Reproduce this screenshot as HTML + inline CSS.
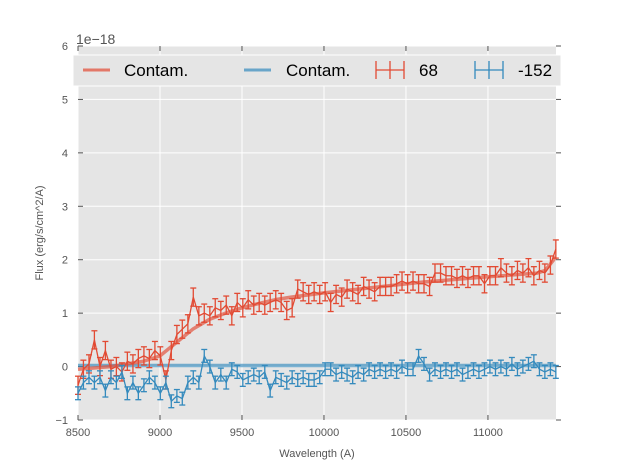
<!DOCTYPE html>
<html><head><meta charset="utf-8"><style>
body{margin:0;background:#fff;}
svg{display:block;font-family:"Liberation Sans","DejaVu Sans",sans-serif;}
</style></head><body>
<svg id="chart" width="617" height="467" viewBox="0 0 617 467">
<rect x="78" y="46" width="478" height="374" fill="#e5e5e5"/>
<g id="grid"></g>
<g id="axes"></g>
<g id="series"></g>
<text x="76" y="44" font-size="14" fill="#555">1e−18</text>
<text x="317" y="457" font-size="11" fill="#555" text-anchor="middle">Wavelength (A)</text>
<text transform="translate(43,233) rotate(-90)" font-size="11" fill="#555" text-anchor="middle">Flux (erg/s/cm^2/A)</text>
<g>
<rect x="73" y="55" width="488" height="31" fill="#e5e5e5" stroke="#fff" stroke-width="1"/>
<g><line x1="83" y1="70" x2="110" y2="70" stroke="#E24A33" stroke-opacity="0.7" stroke-width="3"/><text x="124" y="76" font-size="17" fill="#000">Contam.</text></g>
<g><line x1="244" y1="70" x2="271" y2="70" stroke="#348ABD" stroke-opacity="0.7" stroke-width="3"/><text x="286" y="76" font-size="17" fill="#000">Contam.</text></g>
<g stroke="#E24A33" stroke-width="1.3"><line x1="376" y1="70" x2="404" y2="70"/><line x1="390" y1="61" x2="390" y2="79"/><line x1="376" y1="61" x2="376" y2="79"/><line x1="404" y1="61" x2="404" y2="79"/><text x="419" y="76" font-size="17" fill="#000" stroke="none">68</text></g>
<g stroke="#348ABD" stroke-width="1.3"><line x1="475" y1="70" x2="503" y2="70"/><line x1="489" y1="61" x2="489" y2="79"/><line x1="475" y1="61" x2="475" y2="79"/><line x1="503" y1="61" x2="503" y2="79"/><text x="518" y="76" font-size="17" fill="#000" stroke="none">-152</text></g>
</g>
</svg>
<script>
const xTicks=[8500,9000,9500,10000,10500,11000];
const yTicks=[-1,0,1,2,3,4,5,6];
const waves=[8500,8533,8567,8600,8634,8667,8701,8734,8768,8801,8835,8868,8902,8935,8969,9002,9036,9069,9103,9136,9170,9203,9237,9270,9304,9337,9371,9404,9438,9471,9505,9538,9572,9605,9639,9672,9706,9739,9773,9806,9840,9873,9907,9940,9974,10007,10041,10074,10108,10141,10175,10208,10242,10275,10309,10342,10376,10409,10443,10476,10510,10543,10577,10610,10644,10677,10711,10744,10778,10811,10845,10878,10912,10945,10979,11012,11046,11079,11113,11146,11180,11213,11247,11280,11314,11347,11381,11414];
const redFlux=[-0.35,-0.05,0.05,0.5,0.0,0.3,-0.05,0.0,-0.1,0.1,0.05,0.15,0.2,0.15,0.3,0.2,-0.25,0.3,0.6,0.7,0.8,1.3,0.95,1.0,0.95,1.1,1.05,1.15,0.95,1.2,1.1,1.25,1.15,1.2,1.15,1.2,1.25,1.2,1.05,1.1,1.45,1.4,1.35,1.4,1.35,1.4,1.2,1.35,1.3,1.45,1.4,1.35,1.5,1.45,1.4,1.5,1.5,1.5,1.55,1.6,1.55,1.6,1.55,1.55,1.5,1.75,1.75,1.7,1.7,1.65,1.7,1.65,1.7,1.7,1.55,1.7,1.7,1.85,1.75,1.7,1.8,1.75,1.85,1.7,1.8,1.75,1.9,2.2];
const blueFlux=[-0.5,-0.3,-0.2,-0.3,-0.2,-0.45,-0.2,-0.3,-0.1,-0.5,-0.3,-0.5,-0.35,-0.2,-0.3,-0.5,-0.3,-0.65,-0.55,-0.6,-0.3,-0.2,-0.3,0.2,0.0,-0.3,-0.15,-0.3,-0.05,-0.1,-0.25,-0.2,-0.15,-0.2,-0.1,-0.45,-0.2,-0.25,-0.3,-0.2,-0.25,-0.2,-0.25,-0.25,-0.2,-0.05,-0.05,-0.15,-0.1,-0.15,-0.2,-0.1,-0.15,-0.05,-0.1,-0.05,-0.1,-0.05,-0.1,0.0,-0.05,-0.05,0.2,0.05,-0.15,-0.05,-0.1,-0.05,-0.1,-0.05,-0.15,-0.1,-0.05,-0.1,-0.05,0.0,-0.05,0.0,-0.05,0.05,-0.05,0.0,0.05,0.1,-0.05,-0.1,-0.05,-0.1];
const redErr=0.17, blueErr=0.12;
const contamWaves=[8500,8700,8900,9000,9100,9200,9300,9400,9500,9600,9700,9800,10000,10300,10600,11000,11300,11350,11414];
const redContam=[-0.05,0.0,0.1,0.2,0.45,0.7,0.88,1.0,1.1,1.18,1.25,1.3,1.38,1.48,1.58,1.68,1.75,1.8,2.05];
const blueContam=[0.02,0.02,0.02,0.02,0.02,0.02,0.02,0.02,0.02,0.02,0.02,0.02,0.02,0.02,0.02,0.02,0.02,0.02,0.02];

const X0=78,X1=556,Y0=420,Y1=46,xmin=8500,xmax=11415,ymin=-1,ymax=6;
const sx=v=>X0+(v-xmin)/(xmax-xmin)*(X1-X0);
const sy=v=>Y0-(v-ymin)/(ymax-ymin)*(Y0-Y1);
const NS="http://www.w3.org/2000/svg";
function mk(tag,attrs,parent){const e=document.createElementNS(NS,tag);for(const k in attrs)e.setAttribute(k,attrs[k]);parent.appendChild(e);return e;}
const grid=document.getElementById('grid'),axes=document.getElementById('axes'),series=document.getElementById('series');
xTicks.forEach(t=>{
  const x=sx(t);
  const g=mk('line',{x1:x,x2:x,y1:Y1,y2:Y0,stroke:'#fff','stroke-width':1},grid);
  
  
  mk('line',{x1:x,x2:x,y1:Y0,y2:Y0-5,stroke:'#555'},axes);
  mk('line',{x1:x,x2:x,y1:Y1,y2:Y1+5,stroke:'#555'},axes);
  const l=mk('text',{x:x,y:Y0+16,'font-size':11,fill:'#555','text-anchor':'middle'},axes);
  l.textContent=t;
  
  
});
yTicks.forEach(t=>{
  const y=sy(t);
  const g=mk('line',{x1:X0,x2:X1,y1:y,y2:y,stroke:'#fff','stroke-width':1},grid);
  
  
  mk('line',{x1:X0,x2:X0+5,y1:y,y2:y,stroke:'#555'},axes);
  mk('line',{x1:X1,x2:X1+5,y1:y,y2:y,stroke:'#555'},axes);
  const l=mk('text',{x:X0-10,y:y+4,'font-size':11,fill:'#555','text-anchor':'end'},axes);
  l.textContent=(t<0?'−':'')+Math.abs(t);
  
  
});
function contam(vals,color,name){
  const d=contamWaves.map((w,i)=>(i?'L':'M')+sx(w)+','+sy(vals[i])).join(' ');
  const p=mk('path',{d:d,fill:'none',stroke:color,'stroke-opacity':0.65,'stroke-width':3.5,'stroke-linejoin':'round'},series);
  
  
}
function errs(vals,err,color,name){
  const g=mk('g',{stroke:color,'stroke-width':1.3,fill:'none'},series);
  
  
  vals.forEach((v,i)=>{
    const x=sx(waves[i]),ya=sy(v+err),yb=sy(v-err);
    mk('line',{x1:x,x2:x,y1:ya,y2:yb},g);
    mk('line',{x1:x-3,x2:x+3,y1:ya,y2:ya},g);
    mk('line',{x1:x-3,x2:x+3,y1:yb,y2:yb},g);
  });
  const d=vals.map((v,i)=>(i?'L':'M')+sx(waves[i])+','+sy(v)).join(' ');
  mk('path',{d:d},g);
}
contam(blueContam,'#348ABD','contam-line-blue');
contam(redContam,'#E24A33','contam-line-red');
errs(redFlux,redErr,'#E24A33','series-68');
errs(blueFlux,blueErr,'#348ABD','series-minus152');
</script>
</body></html>
